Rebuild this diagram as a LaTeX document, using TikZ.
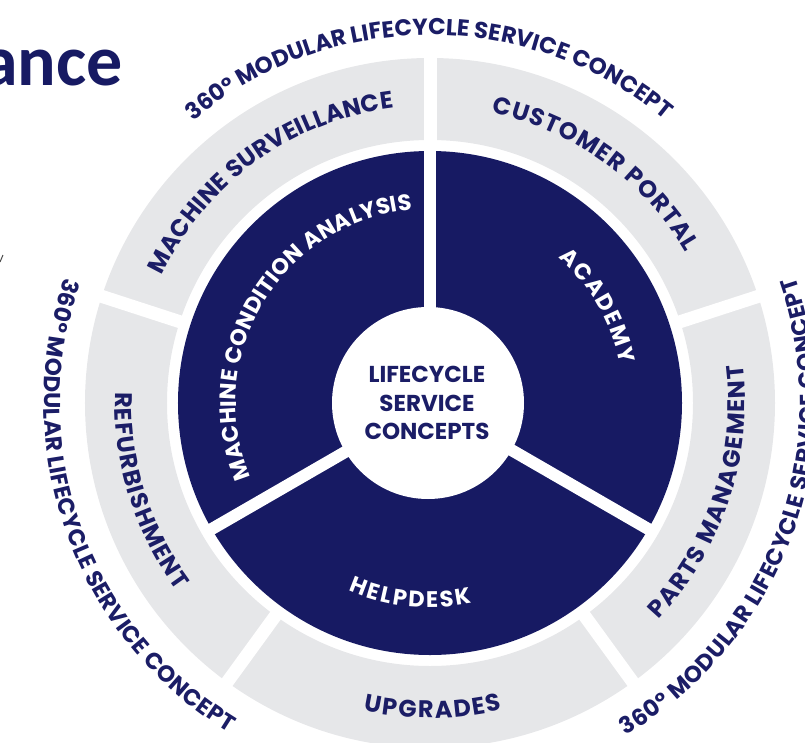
\documentclass[tikz,border=0pt]{standalone}
\usepackage{fontspec}
\setmainfont{Poppins}
\newfontfamily\titlefont{Carlito}
\usetikzlibrary{decorations.text}
\definecolor{navy}{HTML}{171A63}
\definecolor{ringgray}{HTML}{E6E7E9}
\definecolor{txtnavy}{HTML}{1B1D66}
\newcommand\ringfont{\fontsize{24}{24}\selectfont\bfseries}
\newcommand\darkfont{\fontsize{22.5}{22.5}\selectfont\bfseries}
\newcommand\outfont{\fontsize{23}{23}\selectfont\bfseries}
\tikzset{
  curved/.style 2 args={decorate, decoration={text along path, text color=#1, text align=fit to path, text={|\ringfont|#2}}},
  darkcurved/.style={decorate, decoration={text along path, text color=white, text align=fit to path, text={|\darkfont|#1}}},
  outcurved/.style={decorate, decoration={text along path, text color=txtnavy, text align=fit to path, text={|\outfont|360° MODULAR LIFECYCLE SERVICE CONCEPT}}},
  gapline/.style={white, line width=#1},
}
\begin{document}
\begin{tikzpicture}[x=1pt,y=1pt]
\useasboundingbox (-430,-339) rectangle (375,403);
% outer gray ring
\fill[ringgray, even odd rule] (0,0) circle (345) (0,0) circle (263);
\foreach \a in {90,18,-54,234,162} \draw[gapline=13pt] (0,0) -- (\a:360);
% dark ring
\fill[navy] (0,0) circle (252);
\foreach \a in {90,210,330} \draw[gapline=12pt] (0,0) -- (\a:258);
\fill[white] (-2,0) circle (96);
\node[font=\fontsize{23}{28.5}\selectfont\bfseries, text=txtnavy, align=center] (core) at (-3,0) {LIFECYCLE\\SERVICE\\CONCEPTS};
% dark ring texts
\path[darkcurved={MACHINE CONDITION ANALYSIS}] (202.5:194) arc[start angle=202.5, end angle=95.2, radius=194];
\path[darkcurved={ACADEMY}] (48.5:194) arc[start angle=48.5, end angle=11.5, radius=194];
\path[darkcurved={HELPDESK}] (246.6:204.5) arc[start angle=246.6, end angle=281.7, radius=204.5];
% gray ring texts
\path[curved={txtnavy}{MACHINE SURVEILLANCE}] (154.5:297) arc[start angle=154.5, end angle=97, radius=297];
\path[curved={txtnavy}{CUSTOMER PORTAL}] (78:297) arc[start angle=78, end angle=30.5, radius=297];
\path[curved={txtnavy}{PARTS MANAGEMENT}] (-43.5:315) arc[start angle=-43.5, end angle=7, radius=315];
\path[curved={txtnavy}{UPGRADES}] (257.8:315) arc[start angle=257.8, end angle=283.2, radius=315];
\path[curved={txtnavy}{REFURBISHMENT}] (178:315) arc[start angle=178, end angle=216.6, radius=315];
% outer texts
\path[outcurved] (130:368) arc[start angle=130, end angle=50.5, radius=368];
\path[outcurved] (161:386) arc[start angle=161, end angle=238.5, radius=386];
\path[outcurved] (-59.5:386) arc[start angle=-59.5, end angle=19, radius=386];
% cropped title and fragment
\node[font=\titlefont\fontsize{72}{72}\selectfont\bfseries, text=navy, anchor=base east, inner sep=0pt] (title) at (-307,317) {ance};
\coordinate (fragA) at (-430,141);
\coordinate (fragB) at (-427,148);
\draw[line width=1pt, black!70] (fragA) -- (fragB);
\end{tikzpicture}
\end{document}
